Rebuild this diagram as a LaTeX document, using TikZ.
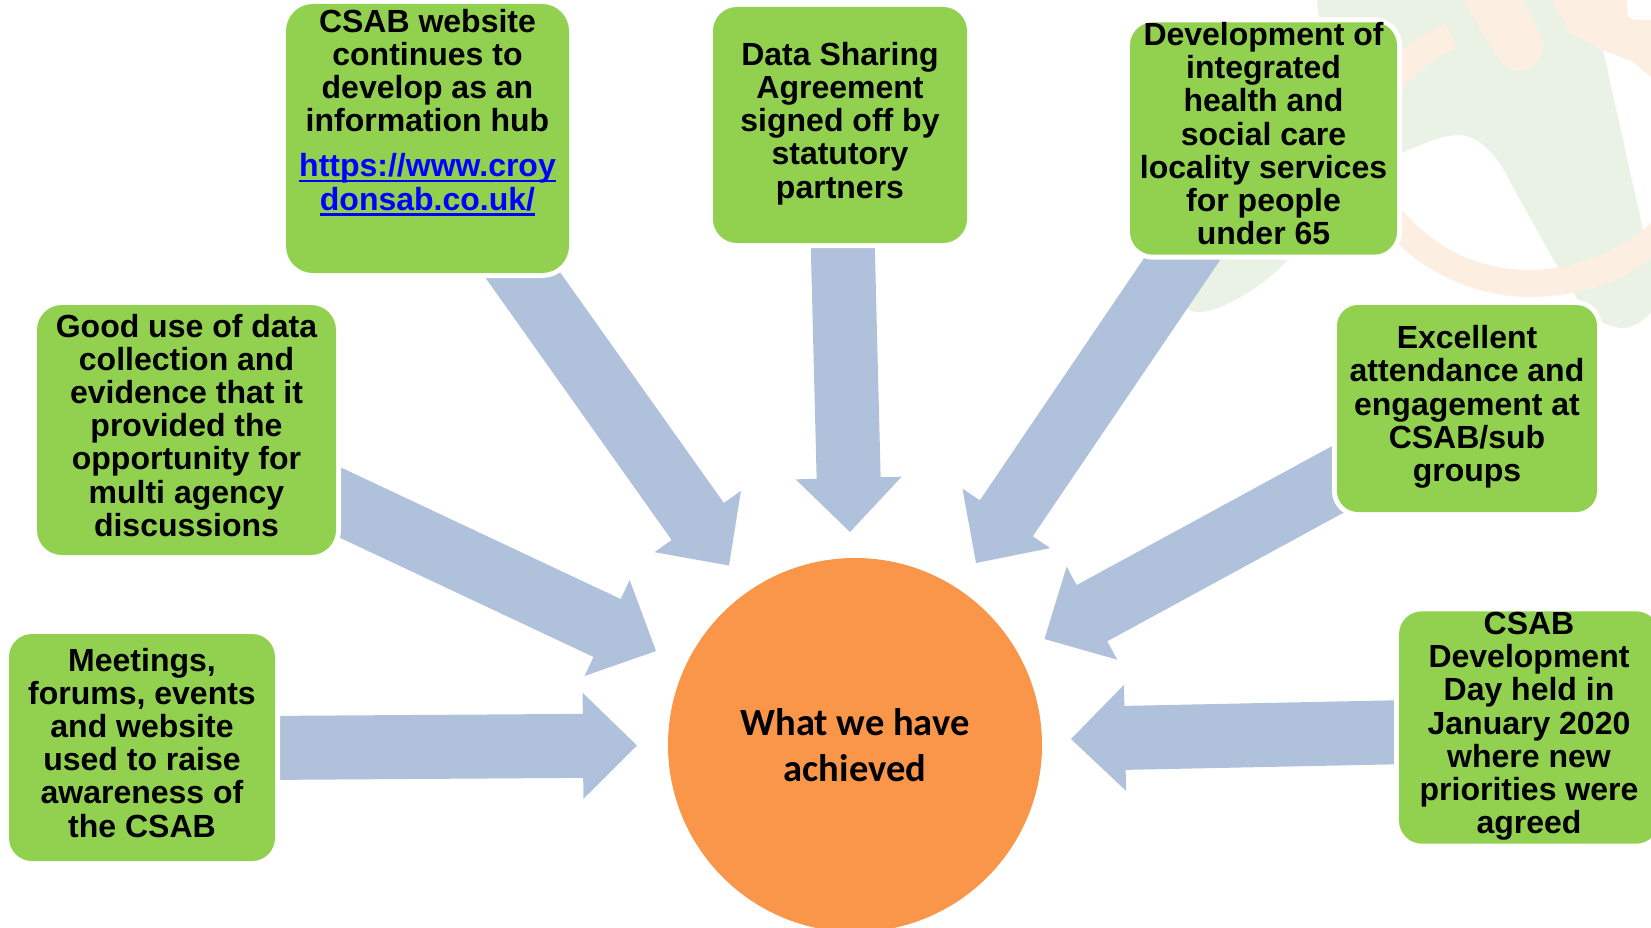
\documentclass[tikz,border=0pt]{standalone}
\usepackage{fontspec}
\setmainfont{Liberation Sans}
\newfontfamily\centrefont{Carlito}
\usetikzlibrary{calc}
\definecolor{boxgreen}{HTML}{92D050}
\definecolor{hubfill}{HTML}{F9964A}
\definecolor{arrowblue}{HTML}{B0C1DC}
\definecolor{logogreen}{HTML}{EAF2E6}
\definecolor{logoorange}{HTML}{FDEEE2}
\definecolor{linkblue}{HTML}{0000FF}
\newcommand\lnk[1]{\setbox0\hbox{#1}\rlap{\rule[-5.5pt]{\wd0}{2.6pt}}\box0}
\newcommand\blockarrow[2]{%
  \coordinate (neck) at ($(#2)!54pt!(#1)$);
  \fill[barrow] ($(#1)!32pt!90:(#2)$) -- ($(neck)!32pt!-90:(#1)$) -- ($(neck)!53pt!-90:(#1)$)
    -- (#2) -- ($(neck)!53pt!90:(#1)$) -- ($(neck)!32pt!90:(#1)$) -- ($(#1)!32pt!-90:(#2)$) -- cycle;}
\tikzset{
  barrow/.style={fill=arrowblue},
  gbox/.style={shape=rectangle,fill=boxgreen,preaction={draw=white,line width=10pt},inner sep=0pt,align=center,
    font=\fontsize{32}{33.2}\selectfont\bfseries},
  hub/.style={shape=circle,fill=hubfill,minimum size=374pt,inner sep=0pt,align=center,
    font=\fontsize{38.5}{46.3}\selectfont\centrefont\bfseries},
}
\begin{document}
\begin{tikzpicture}[x=1pt,y=-1pt]
\useasboundingbox (0,0) rectangle (1651,928);
\clip (0,0) rectangle (1651,928);
\fill[white] (0,0) rectangle (1651,928);
% faded logo
\fill[logogreen] (1317,0) -- (1319,20) -- (1190,290) -- (1187,308)
  .. controls (1192,315) and (1210,312) .. (1225,305)
  .. controls (1250,293) and (1272,278) .. (1289,258) -- (1402,153)
  .. controls (1425,142) and (1445,135) .. (1458,135)
  .. controls (1482,135) and (1500,160) .. (1513,187)
  -- (1558,268) -- (1578,300) .. controls (1590,315) and (1605,328) .. (1623,328)
  .. controls (1633,328) and (1645,320) .. (1651,312)
  -- (1651,245) -- (1643,230) -- (1603,50) -- (1552,0) -- cycle;
\fill[logoorange] (1390,195) .. controls (1430,250) and (1480,270) .. (1530,270)
  .. controls (1575,270) and (1620,250) .. (1651,223) -- (1651,258)
  .. controls (1620,283) and (1575,297) .. (1530,297)
  .. controls (1480,297) and (1425,275) .. (1390,235) -- cycle;
\fill[logoorange] (1390,58) .. controls (1410,43) and (1428,32) .. (1445,23) -- (1457,47)
  .. controls (1435,58) and (1415,72) .. (1402,90) -- (1390,105) -- cycle;
\fill[logoorange] (1463,0) -- (1497,57) .. controls (1505,67) and (1512,71) .. (1520,71)
  .. controls (1535,70) and (1548,55) .. (1541,35) -- (1523,0) -- cycle;
\fill[logoorange] (1552,0) -- (1570,33) -- (1603,50) -- (1633,62) -- (1651,77) -- (1651,20)
  -- (1635,20) .. controls (1629,20) and (1627,15) .. (1627,10) -- (1627,0) -- cycle;
% arrow ends
\coordinate (t1) at (505,250);   \coordinate (h1) at (729,565.5);
\coordinate (t2) at (842.5,235); \coordinate (h2) at (850,532);
\coordinate (t3) at (1195,240);  \coordinate (h3) at (976,563);
\coordinate (t4) at (1355,470);  \coordinate (h4) at (1044.5,639);
\coordinate (t5) at (1410,732);  \coordinate (h5) at (1071,739);
\coordinate (t6) at (320,493);   \coordinate (h6) at (656,651);
\coordinate (t7) at (260,748);   \coordinate (h7) at (637,745.5);
\blockarrow{t1}{h1}
\blockarrow{t2}{h2}
\blockarrow{t3}{h3}
\blockarrow{t4}{h4}
\blockarrow{t5}{h5}
\blockarrow{t6}{h6}
\blockarrow{t7}{h7}
% boxes
\node[gbox,rounded corners=27pt,minimum width=283pt,minimum height=269pt] (website) at (427.5,138.5)
  {\strut CSAB website\\continues to\\develop as an\\information hub\\[12pt]
   \textcolor{linkblue}{\lnk{https://www.croy}}\\\textcolor{linkblue}{\lnk{donsab.co.uk/}}\\[15pt]\strut};
\node[gbox,rounded corners=24pt,minimum width=254pt,minimum height=236pt] (sharing) at (840,125)
  {\strut Data Sharing\\Agreement\\signed off by\\statutory\\partners\strut};
\node[gbox,rounded corners=23pt,minimum width=267pt,minimum height=229pt] (integrated) at (1263.5,138.5)
  {\strut Development of\\integrated\\health and\\social care\\locality services\\for people\\under 65\strut};
\node[gbox,rounded corners=21pt,minimum width=260pt,minimum height=207pt] (attendance) at (1467,408.5)
  {\strut Excellent\\attendance and\\engagement at\\CSAB/sub\\groups\strut};
\node[gbox,rounded corners=23pt,minimum width=260pt,minimum height=231pt] (devday) at (1529,727.5)
  {\strut CSAB\\Development\\Day held in\\January 2020\\where new\\priorities were\\agreed\strut};
\node[gbox,rounded corners=25pt,minimum width=299pt,minimum height=250pt] (data) at (186.5,430)
  {\strut Good use of data\\collection and\\evidence that it\\provided the\\opportunity for\\multi agency\\discussions\strut};
\node[gbox,rounded corners=23pt,minimum width=266pt,minimum height=227pt] (meetings) at (142,747.5)
  {\strut Meetings,\\forums, events\\and website\\used to raise\\awareness of\\the CSAB\strut};
\node[hub] (centre) at (855,745) {What we have\\achieved};
\end{tikzpicture}
\end{document}
